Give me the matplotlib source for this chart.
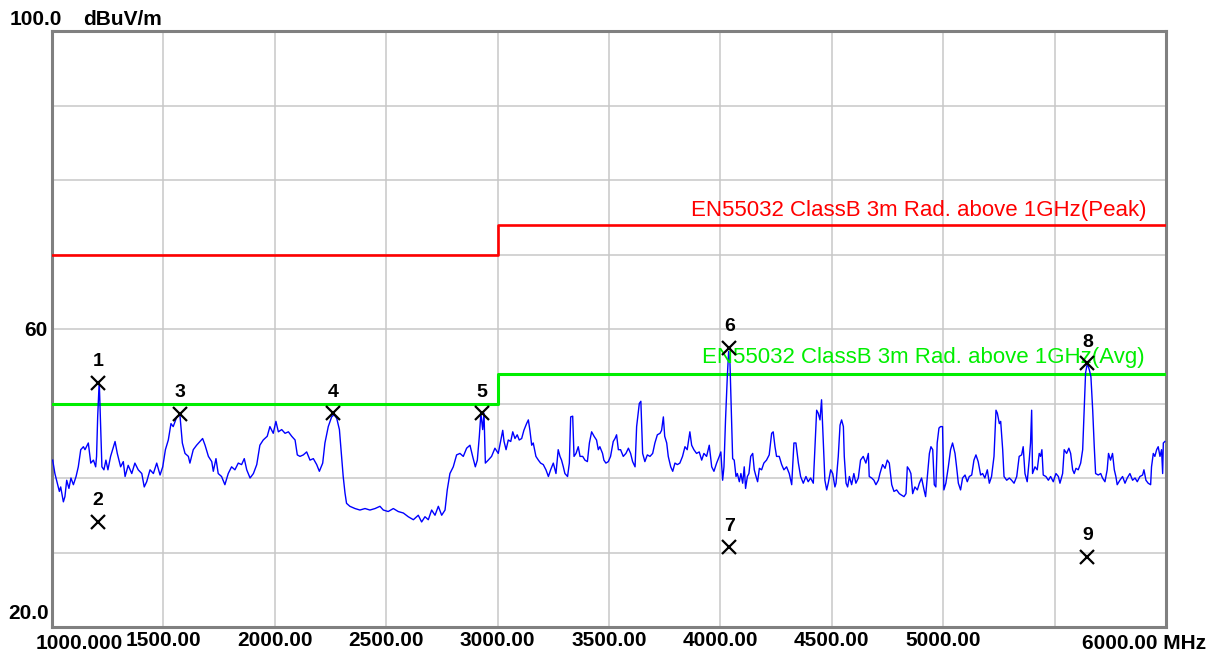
import matplotlib
matplotlib.use("Agg")
import matplotlib.pyplot as plt
from matplotlib.transforms import blended_transform_factory, ScaledTranslation

# ---------------- data ----------------
trace_freq = [
    1003, 1013, 1024, 1033, 1039, 1051, 1058, 1066, 1076, 1085, 1096, 1108, 1118, 1129, 1141, 1148,
    1163, 1174, 1186, 1196, 1200, 1205, 1212, 1218, 1224, 1233, 1242, 1251, 1263, 1272, 1283, 1293,
    1308, 1320, 1328, 1342, 1358, 1372, 1387, 1403, 1414, 1425, 1440, 1455, 1470, 1485, 1497, 1509,
    1522, 1534, 1544, 1560, 1574, 1585, 1597, 1612,
    1619, 1634, 1649, 1664, 1676, 1687, 1702, 1717, 1724, 1736, 1746, 1761, 1776, 1791, 1806, 1821,
    1836, 1851, 1863, 1874, 1889, 1904, 1919, 1933, 1948, 1966, 1978, 1993, 2005, 2016, 2031, 2046,
    2061, 2076, 2091, 2101, 2113, 2128, 2143, 2158, 2173, 2188, 2200, 2215, 2225, 2240, 2255, 2266,
    2278, 2290, 2300, 2307, 2315, 2322, 2337, 2360, 2382, 2405, 2427, 2450, 2472, 2487, 2509, 2532,
    2554, 2577, 2599, 2622, 2644, 2659, 2674, 2689, 2704, 2719, 2734, 2749, 2764, 2774, 2786, 2801,
    2816, 2831, 2846, 2861, 2876, 2888, 2900, 2909, 2918, 2925, 2933, 2939, 2945, 2958, 2973, 2988,
    3003,
    3023, 3029, 3038, 3048, 3059, 3068, 3078, 3088, 3097, 3108, 3118, 3130, 3138, 3145, 3153, 3160,
    3172, 3183, 3193, 3205, 3217, 3228, 3238, 3250, 3262, 3272, 3280, 3287, 3295, 3302, 3314, 3322,
    3328, 3337, 3343, 3352, 3362, 3370, 3382, 3392, 3403, 3412, 3422, 3433, 3444, 3452, 3459, 3471,
    3477, 3486, 3497, 3507, 3519, 3527, 3534, 3542, 3552, 3564, 3576, 3587, 3597, 3606, 3617, 3624,
    3636, 3643, 3651, 3661, 3672, 3684, 3696, 3706, 3717, 3729, 3736, 3744, 3750, 3759, 3766, 3777,
    3786, 3796, 3807, 3818, 3830, 3841, 3851, 3863, 3871, 3881, 3893, 3905, 3916, 3926, 3938, 3950,
    3961, 3971, 3983, 3995, 4002, 4010, 4016, 4023, 4031, 4037, 4043, 4049, 4055, 4062, 4070, 4076,
    4085, 4092, 4100, 4107, 4113, 4121, 4128, 4136, 4145, 4152, 4160, 4167, 4175, 4185, 4195, 4207,
    4219, 4230, 4237, 4245, 4252, 4264, 4275, 4285, 4297, 4309, 4320, 4330, 4339, 4350, 4360, 4372,
    4384, 4394, 4405, 4417, 4424, 4432, 4439, 4447, 4454, 4462, 4469, 4477, 4484, 4495, 4504, 4514,
    4519, 4529, 4537, 4544, 4552, 4556, 4564, 4571, 4579, 4589, 4599, 4608, 4619, 4629, 4641, 4653,
    4664, 4668, 4679, 4689, 4698, 4709, 4716, 4728, 4739, 4749, 4758, 4769, 4779, 4791, 4803, 4813,
    4824, 4833, 4839, 4848, 4855, 4863, 4873, 4884, 4893, 4903, 4914, 4921, 4929, 4938, 4945, 4953,
    4960, 4967, 4973, 4981, 4988, 4997, 5003, 5012, 5023, 5033, 5042, 5053, 5060, 5068, 5078, 5087,
    5098, 5108, 5117, 5128, 5138, 5147, 5157, 5168, 5177, 5187, 5198, 5207, 5217, 5228, 5237, 5243,
    5252, 5258, 5267, 5273, 5285, 5297, 5307, 5318, 5330, 5341, 5352, 5359, 5367, 5377, 5386, 5392,
    5397, 5401, 5412, 5422, 5431, 5437, 5443, 5449, 5461, 5472, 5482, 5494, 5506, 5517, 5524, 5536,
    5543, 5554, 5564, 5572, 5581, 5588, 5596, 5606, 5617, 5626, 5632, 5639, 5647, 5656, 5663, 5671,
    5678, 5684, 5696, 5707, 5715, 5726, 5736, 5742, 5751, 5760, 5768, 5775, 5781, 5793, 5805, 5816,
    5826, 5838, 5850, 5861, 5871, 5883, 5895, 5901, 5910, 5920, 5931, 5935, 5943, 5950, 5958, 5965,
    5973, 5980, 5985, 5988, 5995,
]
trace_level = [
    42.4, 40.6, 39.3, 38.2, 38.8, 36.8, 37.5, 39.7, 38.6, 40.0, 39.1, 40.2, 41.5, 43.8, 44.2, 43.8,
    44.7, 42.0, 42.4, 41.5, 42.9, 48.2, 53.0, 47.3, 41.5, 41.1, 42.4, 41.1, 42.9, 43.8, 44.9, 43.3,
    41.5, 42.2, 40.2, 41.7, 40.6, 42.0, 41.1, 40.6, 38.8, 39.5, 41.1, 40.6, 42.0, 40.4, 41.5, 43.8,
    45.1, 47.3, 46.9, 48.2, 48.5, 44.7, 43.3, 42.9,
    42.0, 43.8, 44.4, 44.9, 45.3, 44.4, 42.9, 42.2, 40.9, 42.6, 40.6, 40.2, 39.1, 40.6, 41.5, 41.1,
    42.0, 41.8, 42.6, 41.1, 40.0, 40.6, 41.8, 44.4, 45.1, 45.6, 46.9, 46.0, 47.6, 46.2, 46.5, 46.0,
    46.2, 45.6, 45.1, 43.1, 42.9, 43.1, 43.5, 42.4, 42.6, 41.8, 40.9, 42.0, 44.7, 46.9, 48.2, 48.5,
    48.0, 46.5, 42.9, 40.2, 38.0, 36.6, 36.2, 35.9, 35.7, 35.9, 35.7, 35.9, 36.2, 35.7, 35.5, 35.9,
    35.5, 35.3, 34.8, 34.4, 35.0, 34.1, 34.8, 34.4, 35.7, 35.0, 36.2, 35.0, 35.7, 38.4, 40.6, 41.5,
    43.1, 43.3, 42.9, 44.0, 44.4, 42.9, 41.5, 42.4, 45.6, 48.7, 46.5, 48.7, 42.0, 42.4, 42.9, 44.0,
    43.3,
    46.4, 44.9, 43.8, 45.1, 44.9, 46.2, 45.3, 45.8, 45.1, 45.3, 46.4, 47.3, 47.8, 46.4, 44.4, 44.7,
    42.9, 42.4, 42.0, 41.8, 41.1, 40.2, 41.1, 42.0, 40.6, 43.8, 42.9, 42.4, 41.5, 40.6, 40.2, 42.0,
    48.2, 48.3, 42.9, 43.3, 44.2, 42.9, 42.9, 42.4, 42.2, 44.7, 46.2, 45.6, 45.1, 43.8, 44.2, 43.3,
    42.4, 42.0, 42.2, 42.9, 44.9, 45.3, 45.8, 43.8, 43.8, 42.9, 43.3, 44.0, 43.3, 42.2, 41.5, 46.9,
    50.0, 50.3, 43.3, 42.2, 43.1, 42.9, 43.3, 44.7, 45.8, 46.0, 46.4, 48.2, 45.6, 44.7, 42.9, 41.5,
    40.9, 42.0, 41.8, 42.0, 42.9, 44.2, 43.8, 46.2, 44.4, 43.8, 43.3, 43.5, 42.4, 43.3, 42.9, 44.4,
    41.5, 40.9, 42.0, 42.9, 43.5, 39.7, 41.5, 47.8, 53.6, 57.0, 55.4, 49.1, 42.6, 42.4, 40.2, 40.6,
    39.5, 40.6, 39.3, 41.5, 38.6, 40.2, 40.6, 42.9, 43.3, 41.1, 40.2, 39.5, 41.3, 41.1, 42.0, 42.4,
    43.1, 46.0, 46.2, 44.2, 42.9, 42.9, 41.8, 41.1, 41.5, 40.6, 39.1, 44.7, 44.7, 42.0, 40.2, 39.3,
    40.2, 39.5, 40.0, 39.3, 43.8, 49.1, 48.7, 47.8, 50.5, 44.7, 39.7, 38.4, 39.3, 41.1, 40.6, 38.8,
    39.3, 42.9, 47.1, 47.8, 46.9, 42.9, 39.3, 38.8, 40.2, 39.1, 40.6, 39.3, 40.0, 42.4, 42.9, 42.0,
    43.3, 40.2, 40.0, 39.7, 39.1, 39.7, 40.6, 41.8, 41.3, 42.4, 42.0, 39.1, 38.2, 38.4, 37.9, 37.7,
    37.5, 37.9, 41.5, 41.1, 40.6, 37.9, 38.8, 38.4, 39.3, 40.0, 38.4, 37.5, 40.2, 43.3, 44.2, 43.8,
    39.1, 38.8, 44.7, 46.7, 46.9, 46.9, 38.4, 39.3, 41.5, 43.8, 44.7, 43.3, 41.5, 39.3, 38.4, 40.0,
    40.4, 39.5, 40.2, 40.4, 42.4, 43.1, 42.2, 40.4, 40.6, 40.0, 41.1, 39.3, 40.2, 42.9, 49.1, 48.7,
    47.3, 47.6, 43.8, 40.2, 39.7, 40.0, 39.7, 39.3, 40.2, 42.9, 43.1, 44.2, 40.6, 39.5, 42.4, 44.7,
    49.1, 40.6, 41.5, 41.1, 43.3, 42.9, 43.8, 40.4, 40.2, 39.7, 40.2, 39.5, 40.6, 40.2, 39.3, 40.6,
    43.8, 43.3, 44.0, 43.3, 41.1, 40.6, 41.3, 41.1, 42.0, 43.8, 48.7, 54.1, 55.4, 54.5, 53.6, 49.1,
    44.2, 40.6, 40.4, 40.6, 40.0, 39.5, 41.1, 43.3, 42.4, 43.3, 41.1, 40.2, 39.1, 39.7, 40.2, 39.3,
    40.0, 40.6, 39.7, 40.0, 39.5, 40.2, 40.4, 41.1, 39.7, 39.3, 39.1, 41.5, 43.3, 42.9, 43.8, 44.2,
    42.9, 43.8, 40.6, 44.7, 44.9,
]

limit_freq = [1000, 3000, 6000]
peak_limit = [70, 74, 74]
avg_limit = [50, 54, 54]
peak_label = "EN55032 ClassB 3m Rad. above 1GHz(Peak)"
avg_label = "EN55032 ClassB 3m Rad. above 1GHz(Avg)"

marker_ids = ["1", "2", "3", "4", "5", "6", "7", "8", "9"]
marker_freq = [1206, 1206, 1574, 2261, 2928, 4040, 4040, 5647, 5647]
marker_level = [52.8, 34.1, 48.6, 48.7, 48.7, 57.5, 30.7, 55.4, 29.4]

xtick_vals = [1500, 2000, 2500, 3000, 3500, 4000, 4500, 5000]
xtick_labels = ["1500.00", "2000.00", "2500.00", "3000.00", "3500.00", "4000.00", "4500.00", "5000.00"]
xgrid_vals = [1500, 2000, 2500, 3000, 3500, 4000, 4500, 5000, 5500]
ygrid_vals = [30, 40, 50, 60, 70, 80, 90]

# ---------------- figure ----------------
W, H, DPI = 1219, 657, 100
fig = plt.figure(figsize=(W / DPI, H / DPI), dpi=DPI, facecolor="white")
ax = fig.add_axes([52 / W, 30 / H, 1114 / W, 596 / H])
ax.set_xlim(1000, 6000)
ax.set_ylim(20, 100)

FONT = "Liberation Sans"
gridc = "#c8c8c8"
for xv in xgrid_vals:
    ax.axvline(xv, color=gridc, lw=1.1, zorder=0)
for yv in ygrid_vals:
    ax.axhline(yv, color=gridc, lw=1.1, zorder=0)

for s in ax.spines.values():
    s.set_color("#808080")
    s.set_linewidth(2.2)

ax.plot(limit_freq, peak_limit, drawstyle="steps-post", color="#ff0000", lw=1.9, zorder=3)
ax.plot(limit_freq, avg_limit, drawstyle="steps-post", color="#00ee00", lw=2.2, zorder=3)
ax.plot(trace_freq, trace_level, color="#0000ff", lw=1.0, zorder=4)

ax.text(5914, 75.2, peak_label, color="#ff0000", fontsize=16, family=FONT,
        ha="right", va="baseline", zorder=5)
ax.text(5905, 55.4, avg_label, color="#00ee00", fontsize=16, family=FONT,
        ha="right", va="baseline", zorder=5)

ax.plot(marker_freq, marker_level, linestyle="none", marker="x", color="black",
        markersize=9.5, markeredgewidth=1.6, zorder=6)
for mid, mf, ml in zip(marker_ids, marker_freq, marker_level):
    ax.annotate(mid, (mf, ml), xytext=(0, 9), textcoords="offset points",
                ha="center", va="bottom", fontsize=14, fontweight="bold",
                family=FONT, color="black", zorder=7)

ax.set_xticks(xtick_vals, xtick_labels)
ax.set_yticks([60], ["60"])
ax.tick_params(axis="both", length=0, labelsize=15)
ax.tick_params(axis="x", pad=3)
ax.tick_params(axis="y", pad=3)
for lab in ax.get_xticklabels() + ax.get_yticklabels():
    lab.set_fontfamily(FONT)
    lab.set_fontweight("bold")

bx = blended_transform_factory(ax.transData, ax.transAxes)
ax.text(1000, 0, "1000.000", transform=bx + ScaledTranslation(-16 / DPI, -7 / DPI, fig.dpi_scale_trans),
        ha="left", va="top", fontsize=15, fontweight="bold", family=FONT, clip_on=False)
ax.text(6000, 0, "6000.00 MHz", transform=bx + ScaledTranslation(40 / DPI, -7 / DPI, fig.dpi_scale_trans),
        ha="right", va="top", fontsize=15, fontweight="bold", family=FONT, clip_on=False)

by = blended_transform_factory(ax.transAxes, ax.transData)
ax.text(0, 100, "100.0", transform=by + ScaledTranslation(-42 / DPI, 6 / DPI, fig.dpi_scale_trans),
        ha="left", va="baseline", fontsize=15, fontweight="bold", family=FONT, clip_on=False)
ax.text(0, 100, "dBuV/m", transform=by + ScaledTranslation(31 / DPI, 6 / DPI, fig.dpi_scale_trans),
        ha="left", va="baseline", fontsize=15, fontweight="bold", family=FONT, clip_on=False)
ax.text(0, 20, "20.0", transform=by + ScaledTranslation(-3 / DPI, 8 / DPI, fig.dpi_scale_trans),
        ha="right", va="baseline", fontsize=15, fontweight="bold", family=FONT, clip_on=False)

fig.savefig("out.png", dpi=DPI, facecolor="white")
